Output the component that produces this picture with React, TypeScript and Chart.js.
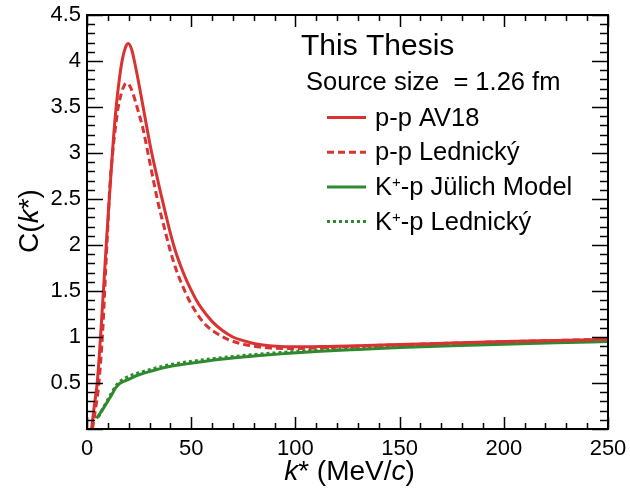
import React, { useEffect, useRef } from "react";
import { Chart, registerables } from "chart.js";

Chart.register(...registerables);

// p-p AV18 (solid red)
const K_AV18 = [2.2, 3.5, 4.9, 7, 9.5, 11, 12.5, 14, 15.5, 17, 18.5, 19.8, 21.5, 23, 25, 27.5, 30, 32.5, 35, 37.5, 40, 42.5, 45, 47.5, 50, 52.5, 55, 60, 65, 70, 75, 80, 87.5, 95, 105, 115, 130, 150, 175, 200, 225, 250];
const C_AV18 = [0.0, 0.25, 0.5, 1.18, 2.1, 2.6, 3.1, 3.5, 3.8, 4.02, 4.15, 4.19, 4.12, 3.97, 3.74, 3.43, 3.12, 2.85, 2.6, 2.36, 2.13, 1.93, 1.77, 1.63, 1.51, 1.4, 1.31, 1.17, 1.07, 1.0, 0.96, 0.93, 0.905, 0.895, 0.893, 0.897, 0.905, 0.918, 0.935, 0.95, 0.963, 0.975];

// p-p Lednický (dashed red)
const K_PPL = [2.6, 4, 5.7, 7.5, 9, 10, 11, 12.3, 13.5, 15, 16.5, 18, 19.2, 20.5, 22, 24, 27, 29.5, 31.8, 34.2, 37.4, 39.8, 42.5, 45.4, 49, 52.6, 57, 62.2, 68, 73.4, 80, 87.8, 95, 105, 115, 130, 150, 200, 250];
const C_PPL = [0.0, 0.2, 0.5, 1.05, 1.75, 2.2, 2.65, 3.0, 3.25, 3.5, 3.65, 3.74, 3.76, 3.73, 3.65, 3.5, 3.25, 2.97, 2.71, 2.45, 2.16, 1.95, 1.75, 1.58, 1.4, 1.26, 1.13, 1.04, 0.97, 0.93, 0.9, 0.88, 0.875, 0.877, 0.885, 0.9, 0.915, 0.948, 0.975];

// K+-p Jülich Model (solid green)
const K_JUL = [4.6, 8, 11, 14.2, 16, 19, 24.6, 30, 39, 47, 55, 63, 71, 83, 95, 112, 130, 150, 175, 200, 225, 250];
const C_JUL = [0.115, 0.23, 0.34, 0.46, 0.5, 0.53, 0.587, 0.625, 0.677, 0.705, 0.73, 0.755, 0.775, 0.8, 0.82, 0.845, 0.865, 0.885, 0.905, 0.922, 0.937, 0.95];

// K+-p Lednický (dotted green)
const K_KPL = [5.5, 9, 12, 15, 18, 24.6, 30, 39, 55, 71, 95, 112, 130, 150, 200, 250];
const C_KPL = [0.13, 0.28, 0.4, 0.5, 0.55, 0.61, 0.645, 0.695, 0.75, 0.79, 0.835, 0.86, 0.88, 0.9, 0.935, 0.96];

const X_TICKS = [0, 50, 100, 150, 200, 250];
const Y_TICKS = [0.5, 1, 1.5, 2, 2.5, 3, 3.5, 4, 4.5];
const Y_TICK_LABELS = ["0.5", "1", "1.5", "2", "2.5", "3", "3.5", "4", "4.5"];

const RED = "#d93232";
const GREEN = "#2f8a2f";
const FONT = "'Liberation Sans', Arial, sans-serif";

const pts = (xs: number[], ys: number[]) => xs.map((x, i) => ({ x, y: ys[i] }));

function drawRuns(ctx: CanvasRenderingContext2D, x: number, y: number, runs: { t: string; f: string; dy?: number }[], align: "left" | "center") {
  let total = 0;
  for (const r of runs) { ctx.font = r.f; total += ctx.measureText(r.t).width; }
  let cx = align === "center" ? x - total / 2 : x;
  ctx.textAlign = "left";
  for (const r of runs) {
    ctx.font = r.f;
    ctx.fillText(r.t, cx, y - (r.dy || 0));
    cx += ctx.measureText(r.t).width;
  }
}

const decor = {
  id: "decor",
  afterDatasetsDraw(chart: any) {
    const ctx: CanvasRenderingContext2D = chart.ctx;
    const { left, right, top, bottom } = chart.chartArea;
    const xs = chart.scales.x;
    const ys = chart.scales.y;
    ctx.save();
    ctx.strokeStyle = "#000";
    ctx.fillStyle = "#000";
    // frame
    ctx.lineWidth = 2;
    ctx.strokeRect(left, top, right - left, bottom - top);
    // ticks
    ctx.lineWidth = 1.5;
    ctx.beginPath();
    for (let v = 0; v <= 250.001; v += 10) {
      const px = Math.round(xs.getPixelForValue(v)) + 0.5;
      const len = Math.abs(v % 50) < 0.001 ? 12 : 6;
      ctx.moveTo(px, bottom); ctx.lineTo(px, bottom - len);
      ctx.moveTo(px, top); ctx.lineTo(px, top + len);
    }
    for (let i = 0; i <= 45; i++) {
      const v = i / 10;
      const py = Math.round(ys.getPixelForValue(v)) + 0.5;
      const len = i % 5 === 0 ? 16 : 8;
      ctx.moveTo(left, py); ctx.lineTo(left + len, py);
      ctx.moveTo(right, py); ctx.lineTo(right - len, py);
    }
    ctx.stroke();
    // tick labels
    ctx.font = `22px ${FONT}`;
    ctx.textAlign = "center";
    ctx.textBaseline = "alphabetic";
    for (const v of X_TICKS) {
      ctx.fillText(String(v), xs.getPixelForValue(v), 455);
    }
    ctx.textAlign = "right";
    ctx.textBaseline = "middle";
    Y_TICKS.forEach((v, i) => {
      ctx.fillText(Y_TICK_LABELS[i], 81, ys.getPixelForValue(v));
    });
    ctx.textBaseline = "alphabetic";
    // x title
    const N28 = `28px ${FONT}`;
    const I28 = `italic 28px ${FONT}`;
    drawRuns(ctx, (left + right) / 2 + 2, 480, [
      { t: "k", f: I28 }, { t: "* (MeV/", f: N28 }, { t: "c", f: I28 }, { t: ")", f: N28 },
    ], "center");
    // y title
    ctx.save();
    ctx.translate(38, 221);
    ctx.rotate(-Math.PI / 2);
    drawRuns(ctx, 0, 0, [
      { t: "C(", f: N28 }, { t: "k", f: I28 }, { t: "*)", f: N28 },
    ], "center");
    ctx.restore();
    // legend header
    ctx.font = `30px ${FONT}`;
    ctx.textAlign = "left";
    ctx.fillText("This Thesis", 301, 55);
    ctx.font = `25.5px ${FONT}`;
    ctx.fillText("Source size  = 1.26 fm", 306, 90);
    // legend entries
    const N25 = `25.5px ${FONT}`;
    const S15 = `15px ${FONT}`;
    const entries = [
      { c: RED, d: [] as number[], runs: [{ t: "p-p AV18", f: N25 }] },
      { c: RED, d: [7, 4], runs: [{ t: "p-p Lednický", f: N25 }] },
      { c: GREEN, d: [] as number[], runs: [{ t: "K", f: N25 }, { t: "+", f: S15, dy: 8 }, { t: "-p Jülich Model", f: N25 }] },
      { c: GREEN, d: [3, 3], runs: [{ t: "K", f: N25 }, { t: "+", f: S15, dy: 8 }, { t: "-p Lednický", f: N25 }] },
    ];
    entries.forEach((e, i) => {
      const y = 117.5 + i * 34.7;
      ctx.strokeStyle = e.c;
      ctx.lineWidth = 3;
      ctx.setLineDash(e.d);
      ctx.beginPath();
      ctx.moveTo(327, y); ctx.lineTo(366, y);
      ctx.stroke();
      ctx.setLineDash([]);
      ctx.fillStyle = "#000";
      drawRuns(ctx, 375, y + 8, e.runs, "left");
    });
    ctx.restore();
  },
};

export default function App() {
  const ref = useRef<HTMLCanvasElement | null>(null);
  useEffect(() => {
    document.body.style.margin = "0";
    const canvas = ref.current!;
    const chart = new Chart(canvas, {
      type: "line",
      data: {
        datasets: [
          { label: "p-p AV18", data: pts(K_AV18, C_AV18), borderColor: RED, borderWidth: 3, pointRadius: 0, cubicInterpolationMode: "monotone", fill: false },
          { label: "p-p Lednický", data: pts(K_PPL, C_PPL), borderColor: RED, borderWidth: 3, borderDash: [7, 4], pointRadius: 0, cubicInterpolationMode: "monotone", fill: false },
          { label: "K+-p Jülich Model", data: pts(K_JUL, C_JUL), borderColor: GREEN, borderWidth: 3, pointRadius: 0, cubicInterpolationMode: "monotone", fill: false },
          { label: "K+-p Lednický", data: pts(K_KPL, C_KPL), borderColor: GREEN, borderWidth: 3, borderDash: [3, 3], pointRadius: 0, cubicInterpolationMode: "monotone", fill: false },
        ],
      } as any,
      options: {
        animation: false,
        responsive: false,
        devicePixelRatio: 1,
        layout: { padding: { left: 87, right: 22, top: 15, bottom: 61 } },
        plugins: { legend: { display: false }, tooltip: { enabled: false } },
        scales: {
          x: { type: "linear", min: 0, max: 250, display: false },
          y: { type: "linear", min: 0, max: 4.5, display: false },
        },
      } as any,
      plugins: [decor],
    });
    return () => chart.destroy();
  }, []);
  return <canvas ref={ref} width={630} height={490} style={{ display: "block" }} />;
}
